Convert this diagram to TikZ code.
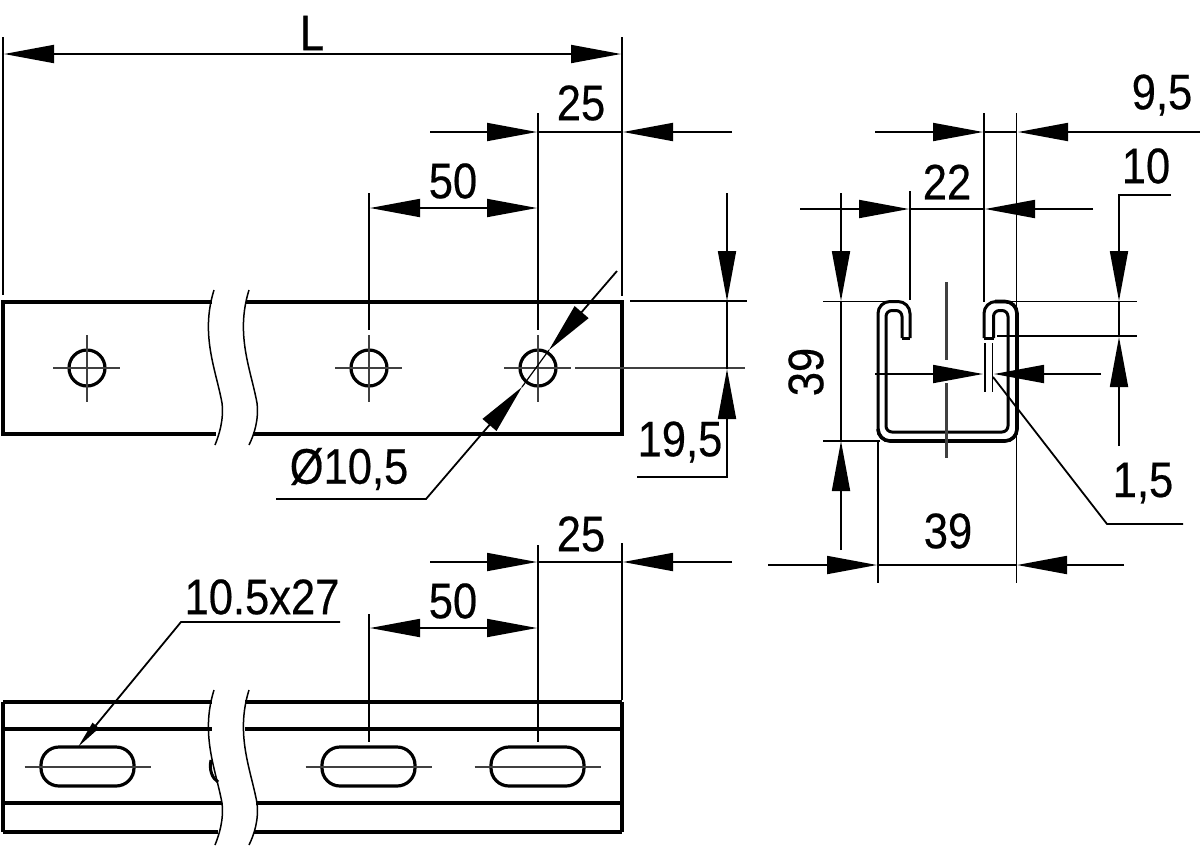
\documentclass[tikz,border=0pt]{standalone}
\usepackage{fontspec}
\setmainfont[FakeStretch=0.87,FakeBold=0.4]{Liberation Sans}
\usepackage{tikz}
\usetikzlibrary{arrows.meta}
\tikzstyle{dimline} = [draw, line width=1.8pt]
\tikzstyle{dimarrow} = [draw, line width=1.8pt, -{Triangle[length=50pt,width=18pt]}]
\tikzstyle{smallarrow} = [draw, line width=1.8pt, -{Triangle[length=28pt,width=8pt]}]
\tikzstyle{outline} = [draw, line width=3.4pt]
\tikzstyle{centerline} = [draw, line width=2.2pt, black!75]
\tikzstyle{breakline} = [draw, line width=1.5pt]
\tikzstyle{dimtext} = [inner sep=0pt, font=\fontsize{50}{50}\selectfont]

\begin{document}
\begin{tikzpicture}[x=1pt, y=-1pt]
        \useasboundingbox (0,0) rectangle (1200,847);
        % top view
        \path[outline] (212,302) -- (3,302) -- (3,434) -- (216,434);
        \path[outline] (246,302) -- (622,302) -- (622,434) -- (253,434);
        \path[draw, line width=4.5pt] (3,302) -- (3,434);
        \path[breakline] (214,290) .. controls (200,335) and (216,370) .. (222,403) .. controls (224,420) and (219,435) .. (215,445);
        \path[breakline] (249,290) .. controls (235,335) and (251,370) .. (257,403) .. controls (259,420) and (254,435) .. (249,445);
        \foreach \x/\name in {87/a, 369/b, 538/c} {
            \node[draw, circle, line width=3.2pt, minimum size=36pt, inner sep=0pt] (hole\name) at (\x,368) {};
            \path[centerline] (\x-34,368) -- (\x+33,368);
            \path[centerline] (\x,335) -- (\x,402);
        }
        % top view, dimensions
        \path[dimline] (3,37) -- (3,295);
        \path[dimline] (622,37) -- (622,296);
        \path[dimline] (538,113) -- (538,330);
        \path[dimline] (369,193) -- (369,330);
        \path[dimarrow] (312,54) -- (4,54);
        \path[dimarrow] (312,54) -- (621,54);
        \path[dimarrow] (430,132) -- (537,132);
        \path[dimarrow] (732,132) -- (623,132);
        \path[dimline] (538,132) -- (622,132);
        \path[dimarrow] (453,208) -- (370,208);
        \path[dimarrow] (453,208) -- (537,208);
        \path[dimline] (630,301) -- (747,301);
        \path[centerline] (575,368) -- (745,368);
        \path[dimarrow] (727,193) -- (727,301);
        \path[dimline] (727,301) -- (727,369);
        \path[dimarrow] (637,477) -- (727,477) -- (727,369);
        \path[dimarrow] (276,499) -- (426,499) -- (522,387);
        \path[dimarrow] (617,271) -- (549,350);
        \path[draw, line width=1.2pt] (522,387) -- (549,350);
        \node[dimtext] (lenL) at (312,33) {L};
        \node[dimtext] (endtop) at (581,103) {25};
        \node[dimtext] (pitchtop) at (453,181) {50};
        \node[dimtext] (holedia) at (349,469) {Ø10,5};
        \node[dimtext] (holepos) at (680,442) {19,5};
        % slotted view
        \foreach \y in {702,729} {
            \path[outline] (3,\y) -- (212,\y);
            \path[outline] (245,\y) -- (622,\y);
        }
        \path[outline] (3,803) -- (222,803);
        \path[outline] (256,803) -- (622,803);
        \path[outline] (3,832) -- (218,832);
        \path[outline] (254,832) -- (622,832);
        \path[outline] (3,702) -- (3,832);
        \path[outline] (622,702) -- (622,832);
        \path[breakline] (214,690) .. controls (200,735) and (216,770) .. (222,803) .. controls (224,820) and (219,835) .. (215,845);
        \path[breakline] (249,690) .. controls (235,735) and (251,770) .. (257,803) .. controls (259,820) and (254,835) .. (249,845);
        \path[draw, line width=3pt] (211,760) .. controls (209,770) and (212,778) .. (218,782);
        \foreach \x/\name in {87.5/a, 368.5/b, 537.5/c} {
            \node[draw, rectangle, rounded corners=18pt, line width=3.2pt, minimum width=93pt, minimum height=39pt, inner sep=0pt] (slot\name) at (\x,766.5) {};
            \path[centerline] (\x-63,767) -- (\x+63,767);
        }
        \path[dimline] (622,543) -- (622,700);
        \path[dimline] (538,545) -- (538,742);
        \path[dimline] (369,614) -- (369,742);
        \path[dimarrow] (430,562) -- (537,562);
        \path[dimarrow] (732,562) -- (623,562);
        \path[dimline] (538,562) -- (622,562);
        \path[dimarrow] (453,628) -- (370,628);
        \path[dimarrow] (453,628) -- (537,628);
        \path[smallarrow] (340,622) -- (181,622) -- (78,747);
        \node[dimtext] (endlow) at (581,534) {25};
        \node[dimtext] (pitchlow) at (453,601) {50};
        \node[dimtext] (slotsize) at (262,597) {10.5x27};
        % section
        \path[draw, line width=3pt, rounded corners=12pt] (910,338) -- (910,301.5) -- (878,301.5) -- (878,441) -- (1017,441) -- (1017,301.5) -- (984,301.5) -- (984,338);
        \path[draw, line width=3.6pt, rounded corners=12pt] (878,429) -- (878,441) -- (1017,441) -- (1017,301.5) -- (995,301.5);
        \path[draw, line width=3pt, rounded corners=6pt] (993.5,338) -- (993.5,310.5) -- (1008,310.5) -- (1008,432) -- (886,432) -- (886,310.5) -- (902,310.5) -- (902,338);
        \path[draw, line width=3pt] (984,338) -- (993.5,338);
        \path[draw, line width=3pt] (902,338) -- (910,338);
        \path[centerline] (946.5,282) -- (946.5,360);
        \path[centerline] (946.5,383) -- (946.5,458);
        % section, dimensions
        \path[dimline] (984,113) -- (984,302);
        \path[dimline] (1016.5,113) -- (1016.5,583);
        \path[dimline] (910,191) -- (910,300);
        \path[dimline] (878,441) -- (878,583);
        \path[dimline] (985,343) -- (985,392);
        \path[dimline] (992.5,343) -- (992.5,392);
        \path[dimline] (823,301.5) -- (895,301.5);
        \path[dimline] (1005,301.5) -- (1137,301.5);
        \path[dimline] (997,336) -- (1137,336);
        \path[dimline] (823,441) -- (880,441);
        \path[dimarrow] (875,132) -- (983,132);
        \path[dimarrow] (1200,132) -- (1018,132);
        \path[dimline] (984,132) -- (1017,132);
        \path[dimarrow] (800,209) -- (909,209);
        \path[dimarrow] (1093,209) -- (985,209);
        \path[dimline] (910,209) -- (984,209);
        \path[dimarrow] (875,374) -- (983,374);
        \path[dimarrow] (1101,374) -- (994,374);
        \path[dimarrow] (841,193) -- (841,301);
        \path[dimarrow] (841,550) -- (841,441);
        \path[dimline] (841,301) -- (841,441);
        \path[dimarrow] (768,565) -- (877,565);
        \path[dimarrow] (1124,565) -- (1017,565);
        \path[dimline] (878,565) -- (1017,565);
        \path[dimarrow] (1171,195) -- (1119,195) -- (1119,301);
        \path[dimarrow] (1119,446) -- (1119,337);
        \path[dimline] (1119,301) -- (1119,337);
        \path[dimline] (993,377) -- (1107,524) -- (1183,524);
        \node[dimtext] (lipgap) at (1162,95) {9,5};
        \node[dimtext] (slotwidth) at (947,182) {22};
        \node[dimtext] (lipdepth) at (1146,166) {10};
        \node[dimtext, rotate=90] (sectheight) at (806,372) {39};
        \node[dimtext] (wallthick) at (1143,483) {1,5};
        \node[dimtext] (sectwidth) at (948,531) {39};
    \end{tikzpicture}
\end{document}
